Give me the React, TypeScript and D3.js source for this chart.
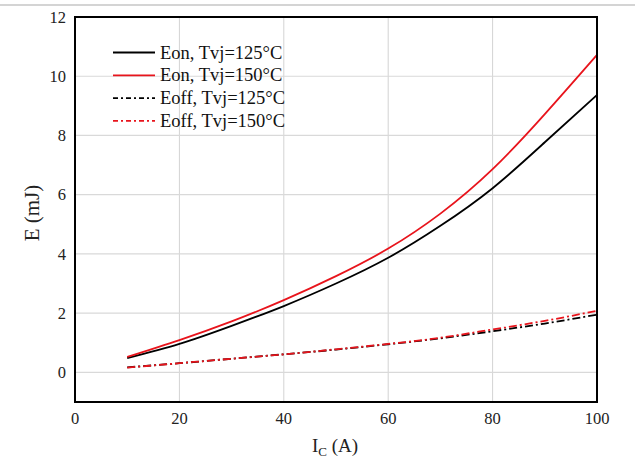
import React from "react";
import * as d3 from "d3";

const currents = [10, 20, 30, 40, 50, 60, 70, 80, 90, 100];
const eon125 = [0.48, 0.96, 1.57, 2.24, 3.0, 3.87, 4.95, 6.22, 7.77, 9.37];
const eon150 = [0.52, 1.09, 1.72, 2.44, 3.25, 4.18, 5.36, 6.86, 8.72, 10.72];
const eoff125 = [0.17, 0.31, 0.46, 0.61, 0.77, 0.95, 1.15, 1.39, 1.65, 1.95];
const eoff150 = [0.16, 0.31, 0.46, 0.61, 0.78, 0.96, 1.17, 1.45, 1.74, 2.08];
const xTicks = [0, 20, 40, 60, 80, 100];
const yTicks = [0, 2, 4, 6, 8, 10, 12];

const seriesList = [
  { name: "Eon, Tvj=125°C", values: eon125, color: "#000000", dash: "" },
  { name: "Eon, Tvj=150°C", values: eon150, color: "#e8141c", dash: "" },
  { name: "Eoff, Tvj=125°C", values: eoff125, color: "#000000", dash: "8,3,2,3" },
  { name: "Eoff, Tvj=150°C", values: eoff150, color: "#e8141c", dash: "8,3,2,3" },
];

export default function App() {
  const W = 635, H = 470;
  const left = 75, right = 597, top = 17, bottom = 402;
  const x = d3.scaleLinear().domain([0, 100]).range([left, right]);
  const y = d3.scaleLinear().domain([-1, 12]).range([bottom, top]);
  const font = "'Liberation Serif', 'Times New Roman', serif";
  const line = d3
    .line<number>()
    .x((_, i) => x(currents[i]))
    .y((d) => y(d))
    .curve(d3.curveNatural);

  return (
    <svg width={W} height={H} style={{ position: "absolute", left: 0, top: 0, background: "#fff" }}>
      <rect x={0} y={0} width={W} height={H} fill="#fff" />
      <rect x={0} y={4} width={W} height={2} fill="#d4d4d4" />
      {/* grid */}
      {xTicks.filter((t) => t > 0 && t < 100).map((t) => (
        <line key={"gx" + t} x1={x(t)} x2={x(t)} y1={top} y2={bottom} stroke="#d3d3d3" strokeWidth={1} />
      ))}
      {yTicks.filter((t) => t < 12).map((t) => (
        <line key={"gy" + t} x1={left} x2={right} y1={y(t)} y2={y(t)} stroke="#d9d9d9" strokeWidth={1.2} />
      ))}
      {/* series */}
      {seriesList.map((s) => (
        <path
          key={s.name}
          d={line(s.values) || ""}
          fill="none"
          stroke={s.color}
          strokeWidth={1.8}
          strokeDasharray={s.dash || undefined}
        />
      ))}
      {/* frame */}
      <rect x={left} y={top} width={right - left} height={bottom - top} fill="none" stroke="#000" strokeWidth={2} />
      {/* y ticks */}
      {yTicks.map((t) => (
        <text key={"ty" + t} x={left - 9} y={y(t)} dy="0.35em" textAnchor="end" fontFamily={font} fontSize={16.5} fill="#222">
          {t}
        </text>
      ))}
      {xTicks.map((t) => (
        <text key={"tx" + t} x={x(t)} y={424} textAnchor="middle" fontFamily={font} fontSize={16.5} fill="#222">
          {t}
        </text>
      ))}
      {/* axis titles */}
      <text x={335} y={452} textAnchor="middle" fontFamily={font} fontSize={19} fill="#222">
        I<tspan fontSize={13} dy={4}>C</tspan>
        <tspan dy={-4}> (A)</tspan>
      </text>
      <text
        transform={`translate(39, ${213}) rotate(-90)`}
        textAnchor="middle"
        fontFamily={font}
        fontSize={21}
        fill="#222"
      >
        E (mJ)
      </text>
      {/* legend */}
      {seriesList.map((s, i) => (
        <g key={"lg" + i} transform={`translate(0, ${52.5 + i * 22.8})`}>
          <line x1={113} x2={155} y1={0} y2={0} stroke={s.color} strokeWidth={1.8} strokeDasharray={s.dash ? "5,3,2,3" : undefined} />
          <text x={160} y={0} dy="0.33em" fontFamily={font} fontSize={18.5} fill="#111">
            {s.name}
          </text>
        </g>
      ))}
    </svg>
  );
}
